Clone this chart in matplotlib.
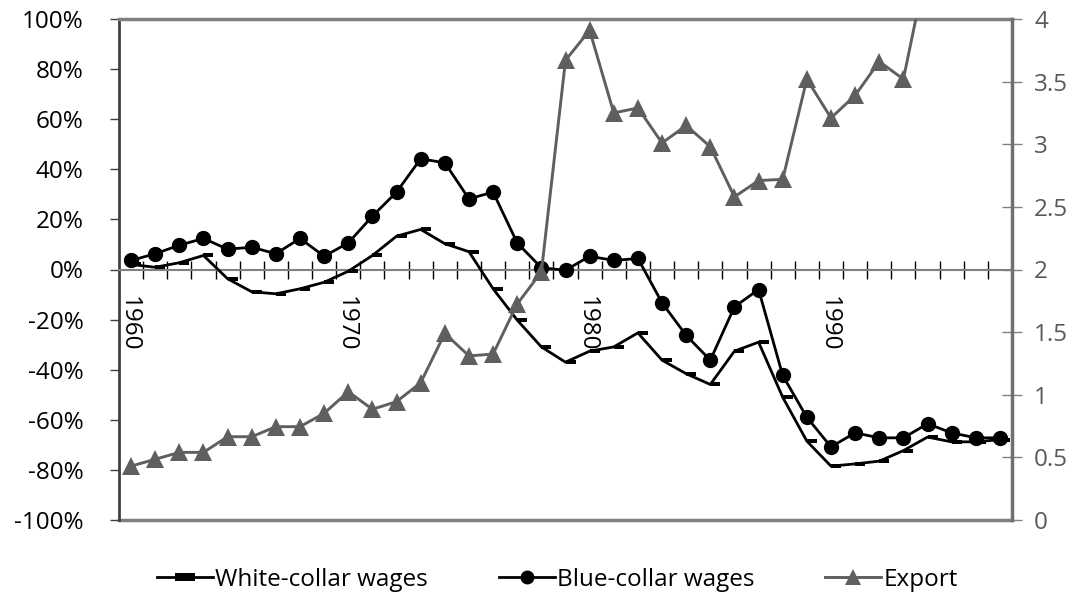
import matplotlib
matplotlib.use("Agg")
import matplotlib.pyplot as plt
import numpy as np
from matplotlib.path import Path
from matplotlib.lines import Line2D
from matplotlib.ticker import FixedLocator, NullFormatter

plt.rcParams['font.family'] = ['Open Sans', 'DejaVu Sans']

# ---- data (category index 0..36) ----
white_collar = [2.0, 0.9, 2.7, 5.6, -3.7, -8.9, -9.7, -7.7, -5.1, -0.7,
                5.6, 13.3, 16.0, 10.3, 7.1, -7.7, -20.2, -30.9, -37.0, -32.6,
                -30.9, -25.3, -36.2, -41.6, -45.9, -32.6, -29.0, -51.0, -68.5, -78.5,
                -77.6, -76.5, -72.3, -66.9, -68.8, -68.8, -67.9]
blue_collar = [3.6, 6.3, 9.7, 12.4, 8.1, 8.9, 6.3, 12.4, 5.3, 10.6,
               21.3, 30.9, 44.2, 42.6, 28.2, 30.9, 10.6, 0.7, -0.3, 5.3,
               3.6, 4.4, -13.3, -26.3, -36.2, -14.9, -8.0, -42.3, -59.0, -70.8,
               -65.2, -67.2, -67.2, -61.6, -65.2, -67.2, -67.2]
export = [0.43, 0.485, 0.54, 0.54, 0.665, 0.665, 0.745, 0.745, 0.852, 1.024,
          0.884, 0.945, 1.096, 1.49, 1.31, 1.325, 1.725, 1.98, 3.67, 3.91,
          3.25, 3.29, 3.01, 3.15, 2.98, 2.58, 2.71, 2.72, 3.52, 3.21,
          3.39, 3.66, 3.52, 4.45, np.nan, np.nan, np.nan]
year_labels = ['1960', '1970', '1980', '1990']
year_label_pos = [0, 9, 19, 29]
left_ticks = [-100, -80, -60, -40, -20, 0, 20, 40, 60, 80, 100]
right_ticks = [0, 0.5, 1, 1.5, 2, 2.5, 3, 3.5, 4]
right_tick_labels = ['0', '0.5', '1', '1.5', '2', '2.5', '3', '3.5', '4']

x = np.arange(len(white_collar))
FS = 17.5

fig = plt.figure(figsize=(10.76, 6.10), dpi=100)
ax = fig.add_axes([119/1076, 1-520/610, (1012-119)/1076, (520-19)/610])
ax2 = ax.twinx()

dash = Path([(0, -0.2), (1, -0.2), (1, 0.2), (0, 0.2), (0, -0.2)],
            [Path.MOVETO, Path.LINETO, Path.LINETO, Path.LINETO, Path.CLOSEPOLY])
dash_c = Path([(-0.5, -0.2), (0.5, -0.2), (0.5, 0.2), (-0.5, 0.2), (-0.5, -0.2)],
              [Path.MOVETO, Path.LINETO, Path.LINETO, Path.LINETO, Path.CLOSEPOLY])

ax.plot(x, white_collar, color='black', lw=2.0, marker=dash, ms=14.4,
        markeredgewidth=0, markerfacecolor='black', zorder=3)
ax.plot(x, blue_collar, color='black', lw=2.0, marker='o', ms=10, zorder=4)
ax2.plot(x, export, color='#5f5f5f', lw=2.1, marker='^', ms=12.5,
         markeredgewidth=0, zorder=5)

h1 = Line2D([], [], color='black', lw=2.0, marker=dash_c, ms=14.4,
            markeredgewidth=0, markerfacecolor='black', label='White-collar wages')
h2 = Line2D([], [], color='black', lw=2.0, marker='o', ms=9, label='Blue-collar wages')
h3 = Line2D([], [], color='#5f5f5f', lw=2.1, marker='^', ms=12,
            markeredgewidth=0, label='Export')

ax.set_xlim(-0.5, 36.5)
ax.set_ylim(-100, 100)
ax2.set_ylim(0, 4)

# left axis
ax.set_yticks(left_ticks)
ax.set_yticklabels([f'{v}%' for v in left_ticks], fontsize=FS)
ax.tick_params(axis='y', direction='out', length=6.5, width=1, color='#404040', pad=19)

# right axis
ax2.set_yticks(right_ticks)
ax2.set_yticklabels(right_tick_labels, fontsize=FS, color='#595959')
ax2.tick_params(axis='y', direction='inout', length=14, width=1, color='#808080', pad=9)

# x-axis at y=0
ax.spines['bottom'].set_position(('data', 0))
ax.spines['bottom'].set_color('#808080')
ax.spines['bottom'].set_linewidth(1.5)
ax.xaxis.set_major_locator(FixedLocator(np.arange(0.5, 36.0, 1.0)))
ax.xaxis.set_major_formatter(NullFormatter())
ax.tick_params(axis='x', direction='inout', length=13, width=1, color='black')
for p, lab in zip(year_label_pos, year_labels):
    ax.annotate(lab, xy=(p - 0.1, 0), xycoords='data', xytext=(0, -26),
                textcoords='offset pixels', rotation=-90, ha='center', va='top',
                fontsize=FS, color='black')

# frame
ax.axhline(-100, color='#808080', lw=2.5, clip_on=False, zorder=1)
ax.spines['top'].set_color('#808080')
ax.spines['top'].set_linewidth(2.5)
ax.spines['left'].set_color('#404040')
ax.spines['left'].set_linewidth(2)
for s in ['top', 'bottom', 'left']:
    ax2.spines[s].set_visible(False)
ax2.spines['right'].set_color('#707070')
ax2.spines['right'].set_linewidth(2.5)
ax.spines['right'].set_visible(False)

fig.legend(handles=[h1, h2, h3], loc='center', bbox_to_anchor=(0.518, 1-580/610),
           ncol=3, frameon=False, fontsize=FS, handlelength=2.3, handletextpad=0.1,
           columnspacing=2.9)

fig.savefig('out.png', dpi=100)
